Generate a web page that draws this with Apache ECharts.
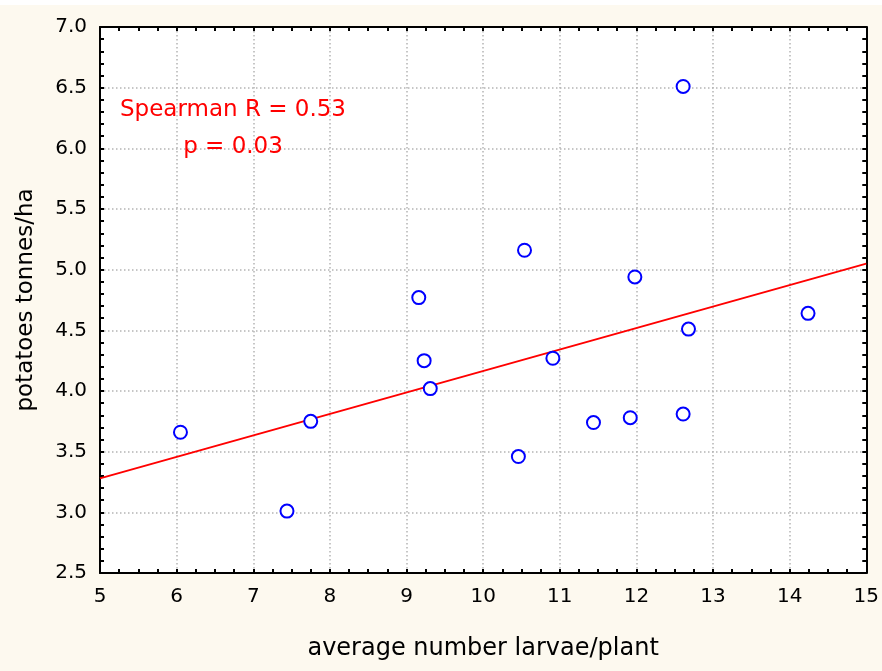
<!DOCTYPE html>
<html>
<head>
<meta charset="utf-8">
<title>potatoes vs larvae</title>
<script src="https://cdn.jsdelivr.net/npm/echarts@6/dist/echarts.min.js"></script>
<style>
  html, body { margin: 0; padding: 0; background: #fdf9ef; }
  #main { width: 882px; height: 671px; }
</style>
</head>
<body>
<div id="main"></div>
<script>
// larvae per plant (x) and potato yield (y)
var larvae = [6.05, 7.44, 7.75, 9.16, 9.23, 9.31, 10.46, 10.54, 10.91, 11.44, 11.92, 11.98, 12.61, 12.61, 12.68, 14.24]
var yieldT = [3.66, 3.01, 3.75, 4.77, 4.25, 4.02, 3.46, 5.16, 4.27, 3.74, 3.78, 4.94, 6.51, 3.81, 4.51, 4.64]
// fitted line end points
var fitX = [5, 15]
var fitY = [3.28, 5.05]
var statsText = ['Spearman R = 0.53', 'p = 0.03']

var chart = echarts.init(document.getElementById('main'))

var frameLine = { show: true, onZero: false, lineStyle: { color: '#000', width: 2 } }
var ticks = { show: true, inside: true, length: 4, lineStyle: { color: '#000', width: 2 } }
var minor = { show: true, length: 4, lineStyle: { color: '#000', width: 2 } }
var grid = { show: true, lineStyle: { color: '#b4b4b4', width: 1.5, type: [1.5, 2.5] } }
var tickFont = { color: '#000', fontFamily: 'DejaVu Sans', fontSize: 20 }

chart.setOption({
  backgroundColor: '#fdf9ef',
  animation: false,
  grid: {
    left: 100,
    top: 27,
    right: 15,
    bottom: 98,
    show: true,
    backgroundColor: '#fff',
    borderWidth: 0
  },
  graphic: [
    {
      type: 'rect',
      shape: { x: 0, y: 0, width: 882, height: 5 },
      style: { fill: '#fff' },
      silent: true
    },
    {
      type: 'text',
      x: 233,
      y: 129,
      z: 10,
      style: {
        text: statsText.join('\n'),
        align: 'center',
        verticalAlign: 'middle',
        fill: '#ff0000',
        font: '23px DejaVu Sans',
        lineHeight: 37
      }
    }
  ],
  xAxis: [
    {
      type: 'value',
      min: 5,
      max: 15,
      interval: 1,
      position: 'bottom',
      name: 'average number larvae/plant',
      nameLocation: 'middle',
      nameGap: 64,
      nameTextStyle: { color: '#000', fontFamily: 'DejaVu Sans', fontSize: 24 },
      axisLine: frameLine,
      axisTick: ticks,
      minorTick: Object.assign({ splitNumber: 4 }, minor),
      axisLabel: Object.assign({ margin: 14 }, tickFont),
      splitLine: grid
    },
    {
      type: 'value',
      min: 5,
      max: 15,
      interval: 1,
      position: 'top',
      axisLine: frameLine,
      axisTick: ticks,
      minorTick: Object.assign({ splitNumber: 4 }, minor),
      axisLabel: { show: false },
      splitLine: { show: false }
    }
  ],
  yAxis: [
    {
      type: 'value',
      min: 2.5,
      max: 7,
      interval: 0.5,
      position: 'left',
      name: 'potatoes tonnes/ha',
      nameLocation: 'middle',
      nameGap: 62,
      nameTextStyle: { color: '#000', fontFamily: 'DejaVu Sans', fontSize: 23 },
      axisLine: frameLine,
      axisTick: ticks,
      minorTick: Object.assign({ splitNumber: 5 }, minor),
      axisLabel: Object.assign({
        margin: 13,
        formatter: function(v) { return v.toFixed(1) }
      }, tickFont),
      splitLine: grid
    },
    {
      type: 'value',
      min: 2.5,
      max: 7,
      interval: 0.5,
      position: 'right',
      axisLine: frameLine,
      axisTick: ticks,
      minorTick: Object.assign({ splitNumber: 5 }, minor),
      axisLabel: { show: false },
      splitLine: { show: false }
    }
  ],
  series: [
    {
      name: 'fit',
      type: 'line',
      data: fitX.map(function(x, i) { return [x, fitY[i]] }),
      showSymbol: false,
      lineStyle: { color: '#ff0000', width: 2 },
      z: 3
    },
    {
      name: 'plots',
      type: 'scatter',
      data: larvae.map(function(x, i) { return [x, yieldT[i]] }),
      symbol: 'circle',
      symbolSize: 13,
      itemStyle: { color: '#fff', borderColor: '#0000ff', borderWidth: 2, opacity: 1 },
      z: 4
    }
  ]
})
</script>
</body>
</html>
